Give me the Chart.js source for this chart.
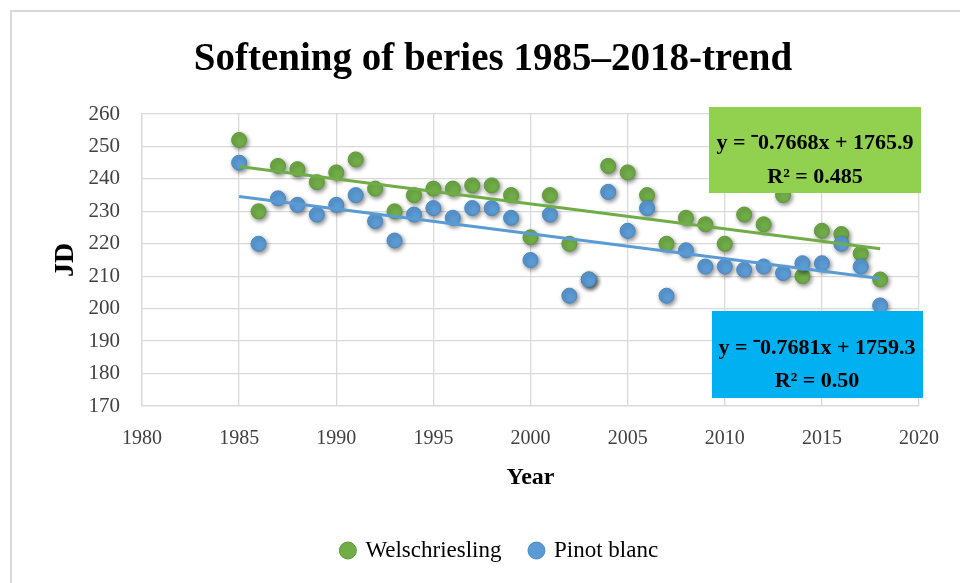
<!DOCTYPE html>
<html>
<head>
<meta charset="utf-8">
<script src="https://cdn.jsdelivr.net/npm/chart.js@4/dist/chart.umd.min.js"></script>
<style>
  html, body { margin: 0; padding: 0; background: #fff; }
  #wrap { width: 960px; height: 583px; position: relative; }
</style>
</head>
<body>
<div id="wrap"><canvas id="c" width="960" height="583"></canvas></div>
<script>
const years = [1985,1986,1987,1988,1989,1990,1991,1992,1993,1994,1995,1996,1997,1998,1999,2000,2001,2002,2003,2004,2005,2006,2007,2008,2009,2010,2011,2012,2013,2014,2015,2016,2017,2018];
const welschriesling = [252,230,244,243,239,242,246,237,230,235,237,237,238,238,235,222,235,220,209,244,242,235,220,228,226,220,229,226,235,210,224,223,217,209];
const pinotBlanc = [245,220,234,232,229,232,235,227,221,229,231,228,231,231,228,215,229,204,209,236,224,231,204,218,213,213,212,213,211,214,214,220,213,201];
const trendYears = [1985, 2018];
const welschTrend = [243.8, 218.5];
const pinotTrend = [234.6, 209.3];
const seriesNames = ['Welschriesling', 'Pinot blanc'];
const welschLabel = ['y = \u207B0.7668x + 1765.9', 'R\u00B2 = 0.485'];
const pinotLabel = ['y = \u207B0.7681x + 1759.3', 'R\u00B2 = 0.50'];
const xTicks = [1980, 2020, 5];
const yTicks = [170, 260, 10];

const GREEN = '#70AD47', BLUE = '#5B9BD5';
const FONT = "'Liberation Serif', 'Times New Roman', serif";

const toPts = (xs, ys) => xs.map((x, i) => ({x: x, y: ys[i]}));

const shadowPlugin = {
  id: 'shadow',
  beforeDatasetDraw(chart, args) {
    const ctx = chart.ctx;
    ctx.save();
    if (chart.data.datasets[args.index].type === 'scatter') {
      ctx.shadowColor = 'rgba(0,0,0,0.45)';
      ctx.shadowBlur = 4;
      ctx.shadowOffsetX = 1.5;
      ctx.shadowOffsetY = 2;
    }
  },
  afterDatasetDraw(chart) { chart.ctx.restore(); }
};

const framePlugin = {
  id: 'frame',
  afterLayout(chart) {
    // centre title and legend across the whole frame rather than the padded box
    if (chart.titleBlock) { chart.titleBlock.left = 26; chart.titleBlock.right = 960; chart.titleBlock.width = 934; }
    if (chart.legend) { chart.legend.left = 40; chart.legend.right = 960; chart.legend.width = 920; }
  },
  beforeDraw(chart) {
    const ctx = chart.ctx;
    ctx.save();
    ctx.fillStyle = '#fff';
    ctx.fillRect(0, 0, chart.width, chart.height);
    ctx.strokeStyle = '#d9d9d9';
    ctx.lineWidth = 2;
    ctx.strokeRect(11, 11, chart.width + 20, chart.height + 20);
    ctx.restore();
  }
};

const boxPlugin = {
  id: 'eqBoxes',
  afterDatasetsDraw(chart) {
    const ctx = chart.ctx;
    const boxes = [
      {x: 709, y: 107, w: 212, h: 86, fill: '#92D050', lines: welschLabel, cx: 815, ly: [143, 177]},
      {x: 712, y: 311, w: 211, h: 87, fill: '#00B0F0', lines: pinotLabel, cx: 817, ly: [348, 381]}
    ];
    ctx.save();
    boxes.forEach(b => {
      ctx.fillStyle = b.fill;
      ctx.fillRect(b.x, b.y, b.w, b.h);
      ctx.fillStyle = '#000';
      ctx.font = "bold 22px " + FONT;
      ctx.textAlign = 'center';
      ctx.textBaseline = 'middle';
      b.lines.forEach((t, i) => ctx.fillText(t, b.cx, b.ly[i]));
    });
    ctx.restore();
  }
};

new Chart(document.getElementById('c'), {
  type: 'scatter',
  data: {
    datasets: [
      {type: 'scatter', label: seriesNames[0], data: toPts(years, welschriesling), backgroundColor: GREEN, borderColor: '#5E9A3A', borderWidth: 1, pointRadius: 7.5, pointHoverRadius: 7.5, order: 4},
      {type: 'scatter', label: seriesNames[1], data: toPts(years, pinotBlanc), backgroundColor: BLUE, borderColor: '#4A88C0', borderWidth: 1, pointRadius: 7.5, pointHoverRadius: 7.5, order: 3},
      {type: 'line', label: 'trend1', data: toPts(trendYears, welschTrend), borderColor: GREEN, borderWidth: 3, pointRadius: 0, fill: false, showLine: true, order: 2},
      {type: 'line', label: 'trend2', data: toPts(trendYears, pinotTrend), borderColor: BLUE, borderWidth: 3, pointRadius: 0, fill: false, showLine: true, order: 1}
    ]
  },
  options: {
    responsive: false,
    animation: false,
    layout: {padding: {left: 0, right: 34, top: 0, bottom: 11}},
    scales: {
      x: {
        type: 'linear', min: xTicks[0], max: xTicks[1],
        ticks: {stepSize: xTicks[2], color: '#404040', font: {family: FONT, size: 20}, padding: 21, callback: v => String(v)},
        grid: {color: '#d9d9d9', lineWidth: 1.3, drawTicks: false},
        border: {display: true, color: '#d9d9d9', width: 1.3},
        title: {display: true, text: 'Year', color: '#000', font: {family: FONT, size: 24, weight: 'bold'}, padding: {top: 0, bottom: 17.6}},
        afterFit(s) { s.height = 104; }
      },
      y: {
        min: yTicks[0], max: yTicks[1],
        ticks: {stepSize: yTicks[2], color: '#404040', font: {family: FONT, size: 21}, padding: 22},
        grid: {color: '#d9d9d9', lineWidth: 1.3, drawTicks: false},
        border: {display: true, color: '#d9d9d9', width: 1.3},
        title: {display: true, text: 'JD', color: '#000', font: {family: FONT, size: 28, weight: 'bold'}, padding: {top: 49, bottom: 0}},
        afterFit(s) { s.width = 142; }
      }
    },
    plugins: {
      title: {display: true, text: 'Softening of beries 1985\u20132018-trend', color: '#000', font: {family: FONT, size: 39, weight: 'bold'}, padding: {top: 36.3, bottom: 30.9}},
      legend: {
        position: 'bottom',
        labels: {
          usePointStyle: true, pointStyle: 'circle', boxWidth: 12, boxHeight: 12, padding: 29,
          color: '#000', font: {family: FONT, size: 23},
          filter: item => item.datasetIndex < 2,
          sort: (a, b) => a.datasetIndex - b.datasetIndex
        }
      },
      tooltip: {enabled: false}
    }
  },
  plugins: [framePlugin, shadowPlugin, boxPlugin]
});
</script>
</body>
</html>
